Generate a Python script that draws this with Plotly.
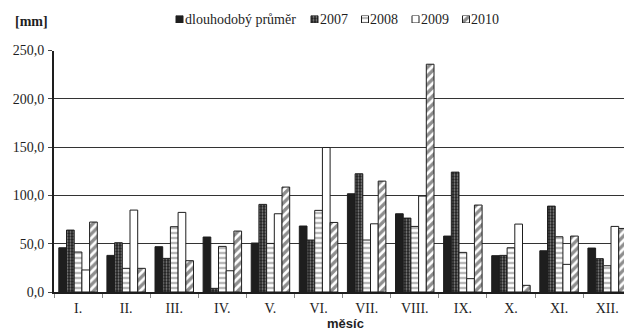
import plotly.graph_objects as go

months = ["I.", "II.", "III.", "IV.", "V.", "VI.", "VII.", "VIII.", "IX.", "X.", "XI.", "XII."]

prumer = [45.8, 37.9, 46.9, 56.9, 50.7, 68.3, 101.7, 81.0, 57.9, 37.6, 42.7, 45.5]
r2007 = [64.1, 51.0, 34.8, 3.8, 90.7, 53.8, 122.4, 76.5, 124.1, 37.9, 88.9, 34.5]
r2008 = [41.4, 24.5, 67.6, 47.2, 50.3, 84.5, 53.8, 67.9, 41.0, 45.8, 57.2, 27.2]
r2009 = [22.8, 84.8, 82.4, 22.0, 81.0, 149.6, 70.6, 99.3, 13.8, 70.3, 28.6, 67.9]
r2010 = [72.4, 24.5, 32.4, 63.1, 108.6, 72.0, 114.8, 235.8, 90.0, 6.9, 57.9, 65.8]

series_names = ["dlouhodobý průměr", "2007", "2008", "2009", "2010"]
series_values = [prumer, r2007, r2008, r2009, r2010]

INK = "#1e1e1e"
SERIF = "Liberation Serif"
SANS = "Liberation Sans"

# fill style of each series: solid, dotted, horizontal lines, empty, diagonal
styles = [
    dict(color=INK),
    dict(color=INK, pattern=dict(shape=".", fgcolor="white", bgcolor=INK,
                                 size=3, solidity=0.35)),
    dict(color="white", pattern=dict(shape="-", fgcolor=INK, bgcolor="white",
                                     size=5, solidity=0.3)),
    dict(color="white"),
    dict(color=INK, pattern=dict(shape="/", fgcolor=INK, bgcolor="white",
                                 size=6, solidity=0.55)),
]

# page geometry (px)
W, H = 624, 336
PLOT_L, PLOT_B = 54, 292          # left edge of plot, y of the zero line
PLOT_TOP = 50.5                   # y of the 250 gridline
PAPER_H = PLOT_B                  # paper spans y = 0 .. PLOT_B (top margin 0)

def py(y_px):
    """page y (px from top) -> paper fraction"""
    return (PAPER_H - y_px) / PAPER_H

def px(x_px):
    """page x (px from left) -> paper fraction"""
    return (x_px - PLOT_L) / (W - PLOT_L)

# hand-made legend row: swatch left edges in page px
legend_left = [176, 311, 361.5, 412, 462.5]
SWATCH = 7
LEGEND_TOP, LEGEND_BOTTOM = 15.5, 23

fig = go.Figure()
for name, vals, st in zip(series_names, series_values, styles):
    fig.add_trace(go.Bar(
        x=months, y=vals, name=name, showlegend=False,
        marker=dict(**st, line=dict(color=INK, width=1)),
    ))

# legend swatches drawn on a pixel-unit helper axis
for name, st, left in zip(series_names, styles, legend_left):
    fig.add_trace(go.Bar(
        x=[left], y=[1], width=[SWATCH], offset=0, name=name,
        xaxis="x2", yaxis="y2", showlegend=False, hoverinfo="skip",
        marker=dict(**st, line=dict(color=INK, width=1)),
    ))
    fig.add_annotation(
        text=name, xref="x2", yref="paper", x=left + SWATCH + 0.5,
        y=py((LEGEND_TOP + LEGEND_BOTTOM) / 2 + 0.5),
        xanchor="left", yanchor="middle", showarrow=False, borderpad=0,
        font=dict(family=SERIF, size=14, color=INK),
    )

fig.update_layout(
    width=W, height=H,
    margin=dict(l=PLOT_L, r=0, t=0, b=H - PLOT_B, pad=0, autoexpand=False),
    paper_bgcolor="white", plot_bgcolor="white",
    barmode="group", bargap=0.2, bargroupgap=0,
    separators=", ",
    font=dict(family=SERIF, size=13, color=INK),
    showlegend=False,
    xaxis=dict(
        range=[-0.5, 11.35], anchor="y", automargin=False,
        showline=True, linecolor=INK, linewidth=1.5,
        ticks="outside", tickson="boundaries", ticklen=4, tickcolor="#888",
        tickfont=dict(family=SERIF, size=14, color=INK),
        ticklabelstandoff=2,
        showgrid=False,
    ),
    yaxis=dict(
        domain=[0, py(PLOT_TOP)], anchor="x", automargin=False,
        range=[0, 250], dtick=50, tickformat=".1f",
        showline=True, linecolor=INK, linewidth=2,
        ticks="outside", ticklen=4, tickcolor="#444",
        showgrid=True, gridcolor="#333", gridwidth=1,
        tickfont=dict(family=SERIF, size=14, color=INK),
        ticklabelstandoff=1,
        zeroline=False,
    ),
    xaxis2=dict(domain=[0, 1], range=[PLOT_L, W], anchor="y2", visible=False,
                automargin=False, fixedrange=True),
    yaxis2=dict(domain=[py(LEGEND_BOTTOM), py(LEGEND_TOP)], range=[0, 1],
                anchor="x2", visible=False, automargin=False, fixedrange=True),
)

fig.add_annotation(
    text="<b>[mm]</b>", xref="paper", yref="paper", x=px(14), y=py(21.5),
    xanchor="left", yanchor="middle", showarrow=False, borderpad=0,
    font=dict(family=SERIF, size=14, color=INK),
)

fig.add_annotation(
    text="<b>měsíc</b>", xref="paper", yref="paper", x=px(345), y=py(323),
    xanchor="center", yanchor="middle", showarrow=False, borderpad=0,
    font=dict(family=SANS, size=13, color=INK),
)

fig.write_html("out.html")
